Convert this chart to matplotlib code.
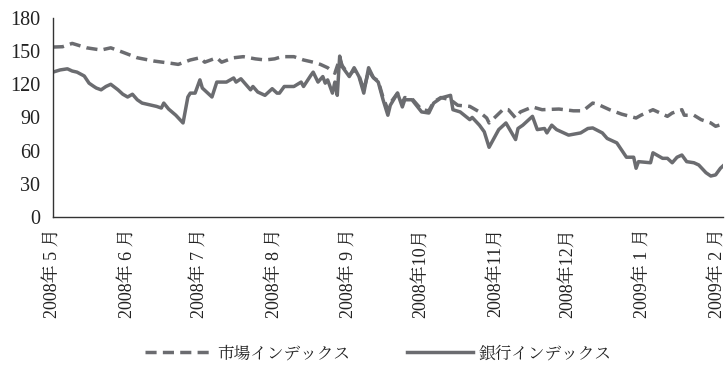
import matplotlib
matplotlib.use("Agg")
import matplotlib.pyplot as plt
import matplotlib.dates as mdates
import pandas as pd

bank_dates = ["2008-05-01","2008-05-04","2008-05-07","2008-05-09","2008-05-11","2008-05-14","2008-05-16","2008-05-18",
"2008-05-19","2008-05-21","2008-05-23","2008-05-25","2008-05-28","2008-05-30","2008-06-01","2008-06-03","2008-06-05",
"2008-06-07","2008-06-09","2008-06-13","2008-06-15","2008-06-16","2008-06-18","2008-06-21","2008-06-24","2008-06-26",
"2008-06-27","2008-06-29","2008-07-01","2008-07-02","2008-07-06","2008-07-08","2008-07-12","2008-07-15","2008-07-16",
"2008-07-18","2008-07-22","2008-07-23","2008-07-25","2008-07-28","2008-07-31","2008-08-02","2008-08-03","2008-08-05",
"2008-08-09","2008-08-12","2008-08-13","2008-08-16","2008-08-17","2008-08-19","2008-08-21","2008-08-22","2008-08-23",
"2008-08-25","2008-08-26","2008-08-27","2008-08-28","2008-08-29","2008-09-01","2008-09-03","2008-09-05","2008-09-07",
"2008-09-09","2008-09-11","2008-09-13","2008-09-15","2008-09-17","2008-09-18","2008-09-21","2008-09-23","2008-09-24",
"2008-09-27","2008-10-01","2008-10-04","2008-10-06","2008-10-09","2008-10-13","2008-10-14","2008-10-17","2008-10-21",
"2008-10-22","2008-10-25","2008-10-27","2008-10-29","2008-11-02","2008-11-05","2008-11-09","2008-11-10","2008-11-12",
"2008-11-16","2008-11-18","2008-11-21","2008-11-22","2008-11-24","2008-11-26","2008-12-01","2008-12-06","2008-12-09",
"2008-12-11","2008-12-15","2008-12-17","2008-12-21","2008-12-25","2008-12-28","2008-12-29","2008-12-30","2009-01-04",
"2009-01-05","2009-01-09","2009-01-11","2009-01-13","2009-01-15","2009-01-17","2009-01-19","2009-01-22","2009-01-24",
"2009-01-27","2009-01-29","2009-01-31","2009-02-02","2009-02-03"]
bank_values = [131,133,134,132,131,127.5,121,118,116.6,115,118,120,115,111,108.5,111,106,
103,102,100,98.5,103,97.6,92,85,108.5,
112,112,124,116.6,108.5,122,122,125.7,122,
125,115,118,113,110,116,112,112,118,
118,122,118,128,131,122,127,121,124,
112,122,110,145.5,136,127,135,127,112,
135,126,122,106,92,101,112,99.5,106,
106,95,94,103,107.6,110,97,95,88,
90,83,77,63,79,85,70,80,83,
91,79,80,76,83,79,74,76,80,
80.5,76,71,67,54,54,44,50,49,
58,53,53,49,54,56,50,49,47,
40,37,38,44,46]

market_dates = ["2008-05-01","2008-05-05","2008-05-09","2008-05-12","2008-05-15","2008-05-21","2008-05-25","2008-05-30",
"2008-06-05","2008-06-12","2008-06-19","2008-06-22","2008-06-27","2008-07-01","2008-07-03","2008-07-08","2008-07-10",
"2008-07-15","2008-07-19","2008-07-24","2008-07-28","2008-08-01","2008-08-04","2008-08-09","2008-08-13","2008-08-17",
"2008-08-20","2008-08-23","2008-08-26","2008-08-28","2008-08-29","2008-09-01","2008-09-03","2008-09-05","2008-09-07",
"2008-09-09","2008-09-11","2008-09-13","2008-09-15","2008-09-17","2008-09-18","2008-09-21","2008-09-23","2008-09-24",
"2008-09-27","2008-10-01","2008-10-04","2008-10-06","2008-10-09","2008-10-13","2008-10-16","2008-10-21","2008-10-25",
"2008-10-28","2008-10-29","2008-11-04","2008-11-06","2008-11-09","2008-11-11","2008-11-16","2008-11-20","2008-11-27",
"2008-12-03","2008-12-07","2008-12-11","2008-12-13","2008-12-18","2008-12-23","2008-12-29","2008-12-31","2009-01-05",
"2009-01-11","2009-01-13","2009-01-17","2009-01-18","2009-01-22","2009-01-25","2009-01-29","2009-01-31","2009-02-03"]
market_values = [153.7,154,157,155,153,151,153,149,
144,141,139,138,142,144,140,144,140,
144,145,143,142,143,145,145,142,140,
138,135,130,143,137,128,133,128,115,
132,126,123,108,97,103,112,103,108,
107,97,96,104,108,106,101,100,95,
89.5,85,97.6,97,89.5,95,99.5,97,97.6,
96,96,103,102,97,93,89.5,92,97,
91,94,97,92,92,88,85,82,84]

series_labels = ["市場インデックス", "銀行インデックス"]
y_ticks = [0, 30, 60, 90, 120, 150, 180]

FAM = ["Liberation Serif", "Noto Serif CJK JP", "DejaVu Serif"]
plt.rcParams["font.family"] = FAM

line_color = "#6b6c70"

fig = plt.figure(figsize=(7.25, 3.67), dpi=100)
ax = fig.add_axes([0.073, 0.409, 0.924, 0.542])

md = pd.to_datetime(market_dates)
bd = pd.to_datetime(bank_dates)
ax.plot(md, market_values, color=line_color, lw=2.5, dashes=(3.2, 1.8),
        solid_capstyle="butt", label=series_labels[0])
ax.plot(bd, bank_values, color=line_color, lw=2.5, solid_joinstyle="round",
        label=series_labels[1])

ax.set_ylim(0, 180)
ax.set_yticks(y_ticks)
ax.set_xlim(pd.Timestamp("2008-05-01"), pd.Timestamp("2009-02-03"))

ax.xaxis.set_major_locator(mdates.MonthLocator())
def fmt(x, pos=None):
    d = mdates.num2date(x)
    m = d.month
    ms = f" {m} " if m < 10 else f"{m}"
    return f"{d.year}年{ms}月"
ax.xaxis.set_major_formatter(plt.FuncFormatter(fmt))

for s in ["top", "right"]:
    ax.spines[s].set_visible(False)
for s in ["left", "bottom"]:
    ax.spines[s].set_color("#333333")
    ax.spines[s].set_linewidth(1.0)

ax.tick_params(axis="y", length=0, pad=9, labelsize=14.5, labelcolor="#222222")
ax.tick_params(axis="x", length=0, pad=8, labelsize=13, labelcolor="#222222")
for lab in ax.get_yticklabels():
    lab.set_family(FAM)
for lab in ax.get_xticklabels():
    lab.set_rotation(90)
    lab.set_ha("center")
    lab.set_va("top")
    lab.set_family(FAM)

fig.legend(loc="center", bbox_to_anchor=(0.522, 0.035), ncol=2, frameon=False,
           prop={"family": FAM, "size": 12}, handlelength=4.0, columnspacing=3.4,
           handletextpad=0.3, labelcolor="#222222")

fig.savefig("out.png", dpi=100)
